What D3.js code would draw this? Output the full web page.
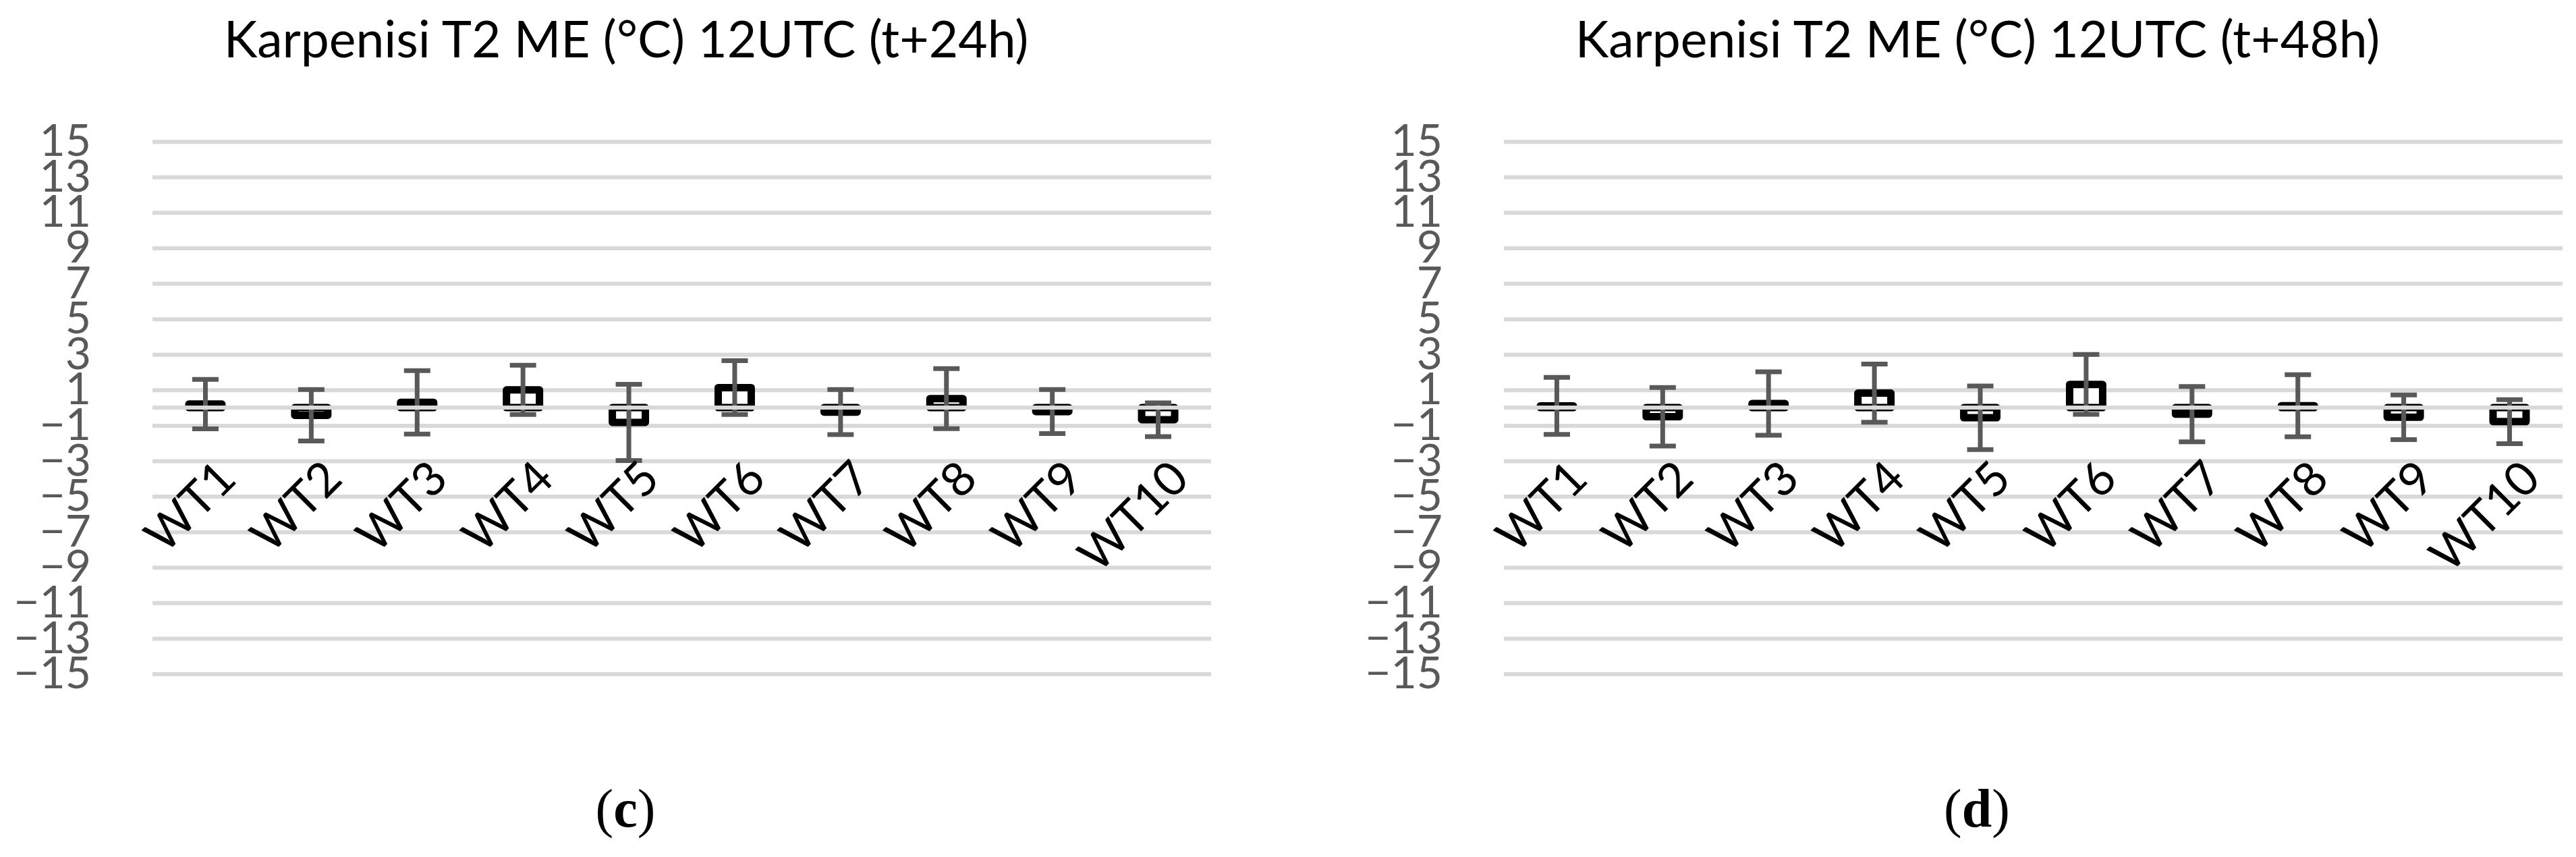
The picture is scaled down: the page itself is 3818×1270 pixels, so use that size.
<!DOCTYPE html>
<html>
<head>
<meta charset="utf-8">
<script src="https://cdn.jsdelivr.net/npm/d3@7"></script>
<style>
  body { margin: 0; background: #fff; }
  svg { display: block; }
</style>
</head>
<body>
<svg id="chart"></svg>
<script>
// weather types on the x axis
const categories = ["WT1", "WT2", "WT3", "WT4", "WT5", "WT6", "WT7", "WT8", "WT9", "WT10"];
const yTicks = [15, 13, 11, 9, 7, 5, 3, 1, -1, -3, -5, -7, -9, -11, -13, -15];

// (c) t+24h : mean error and error bar size
const meanC = [0.20, -0.43, 0.30, 1.00, -0.83, 1.13, -0.25, 0.51, -0.22, -0.68];
const errC = [1.39, 1.45, 1.79, 1.39, 2.15, 1.52, 1.27, 1.69, 1.24, 0.95];

// (d) t+48h
const meanD = [0.10, -0.51, 0.23, 0.82, -0.57, 1.31, -0.37, 0.11, -0.54, -0.79];
const errD = [1.61, 1.65, 1.79, 1.64, 1.79, 1.69, 1.56, 1.75, 1.26, 1.24];

const titles = ["Karpenisi T2 ME (°C) 12UTC (t+24h)", "Karpenisi T2 ME (°C) 12UTC (t+48h)"];
const captions = ["c", "d"];

let width = 3818;
let height = 1270;
let plotLeft = 226;
let plotRight = 1795;
let plotTop = 209.7;
let plotBottom = 998.5;
let panelShift = 2003;
let font = "Lato, 'Open Sans', sans-serif";

let svg = d3.select("#chart").attr("width", width).attr("height", height);
svg.append("rect").attr("width", width).attr("height", height).attr("fill", "#fff");

let drawPanel = (ox, title, caption, means, errs) => {
  let g = svg.append("g").attr("transform", "translate(" + ox + ",0)");

  let xScale = d3.scaleBand()
    .domain(categories)
    .range([plotLeft, plotRight])
    .paddingInner(0.688)
    .paddingOuter(0.344);

  let yScale = d3.scaleLinear()
    .domain([-15, 15])
    .range([plotBottom, plotTop]);

  // gridlines and y labels
  let yAxis = d3.axisLeft(yScale)
    .tickValues(yTicks)
    .tickSize(-(plotRight - plotLeft))
    .tickPadding(91);

  let yg = g.append("g")
    .attr("transform", "translate(" + plotLeft + ",0)")
    .call(yAxis);
  yg.select(".domain").remove();
  yg.selectAll("line").attr("stroke", "#d9d9d9").attr("stroke-width", 6);
  yg.selectAll("text")
    .attr("fill", "#595959")
    .attr("font-size", 66)
    .attr("font-family", font);

  // mean bars
  g.selectAll(".bar")
    .data(means)
    .enter()
    .append("rect")
    .attr("class", "bar")
    .attr("x", (d, i) => xScale(categories[i]))
    .attr("width", xScale.bandwidth())
    .attr("y", (d) => yScale(Math.max(0, d)))
    .attr("height", (d) => Math.abs(yScale(d) - yScale(0)))
    .attr("fill", "#fff")
    .attr("stroke", "#000")
    .attr("stroke-width", 11)
    .attr("stroke-linejoin", "round");

  // error bars
  let capW = 39;
  let eb = g.selectAll(".err")
    .data(means)
    .enter()
    .append("g")
    .attr("class", "err")
    .attr("stroke", "#595959")
    .attr("stroke-width", 7);
  let cx = (i) => xScale(categories[i]) + xScale.bandwidth() / 2;
  eb.append("line")
    .attr("x1", (d, i) => cx(i))
    .attr("x2", (d, i) => cx(i))
    .attr("y1", (d, i) => yScale(d + errs[i]))
    .attr("y2", (d, i) => yScale(d - errs[i]));
  eb.append("line")
    .attr("x1", (d, i) => cx(i) - capW / 2)
    .attr("x2", (d, i) => cx(i) + capW / 2)
    .attr("y1", (d, i) => yScale(d + errs[i]))
    .attr("y2", (d, i) => yScale(d + errs[i]));
  eb.append("line")
    .attr("x1", (d, i) => cx(i) - capW / 2)
    .attr("x2", (d, i) => cx(i) + capW / 2)
    .attr("y1", (d, i) => yScale(d - errs[i]))
    .attr("y2", (d, i) => yScale(d - errs[i]));

  // horizontal axis line at 0, drawn over the bars
  g.append("line")
    .attr("x1", plotLeft)
    .attr("x2", plotRight)
    .attr("y1", yScale(0))
    .attr("y2", yScale(0))
    .attr("stroke", "#d9d9d9")
    .attr("stroke-width", 6);

  // category labels, rotated
  let xAxis = d3.axisBottom(xScale).tickSize(0);
  let xg = g.append("g")
    .attr("transform", "translate(0,713)")
    .call(xAxis);
  xg.select(".domain").remove();
  xg.selectAll("text")
    .attr("x", 0)
    .attr("y", 0)
    .attr("dy", 0)
    .attr("transform", "translate(49,0) rotate(-45)")
    .style("text-anchor", "end")
    .attr("fill", "#000")
    .attr("font-size", 70)
    .attr("font-family", font);

  // title
  g.append("text")
    .attr("x", 928)
    .attr("y", 85)
    .attr("text-anchor", "middle")
    .attr("font-family", font)
    .attr("font-size", 75)
    .attr("fill", "#000")
    .text(title);

  // panel caption
  let cap = g.append("text")
    .attr("x", 927)
    .attr("y", 1225)
    .attr("text-anchor", "middle")
    .attr("font-family", "'Liberation Serif', 'Times New Roman', serif")
    .attr("font-size", 80)
    .attr("fill", "#000");
  cap.append("tspan").text("(");
  cap.append("tspan").attr("font-weight", "bold").text(caption);
  cap.append("tspan").text(")");
};

drawPanel(0, titles[0], captions[0], meanC, errC);
drawPanel(panelShift, titles[1], captions[1], meanD, errD);
</script>
</body>
</html>
